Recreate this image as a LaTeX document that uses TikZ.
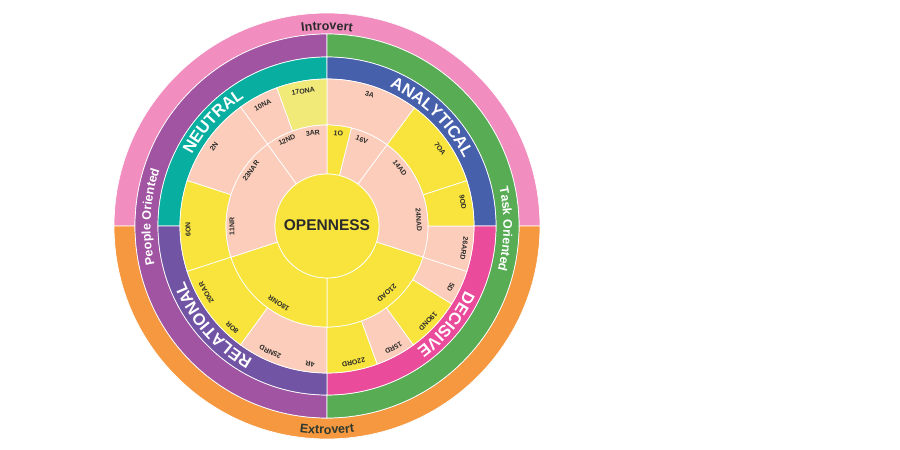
\documentclass[tikz,border=0pt]{standalone}
\usepackage{fontspec}
\setmainfont{Liberation Sans}
\usetikzlibrary{decorations.text}
\definecolor{cpink}{HTML}{F18DBF}
\definecolor{corange}{HTML}{F59840}
\definecolor{cpurple}{HTML}{A054A1}
\definecolor{cgreen}{HTML}{58AC54}
\definecolor{cteal}{HTML}{08AEA0}
\definecolor{cblue}{HTML}{4660AC}
\definecolor{cmagenta}{HTML}{EA4B9A}
\definecolor{crel}{HTML}{7154A4}
\definecolor{cpeach}{HTML}{FBCDBA}
\definecolor{cyellow}{HTML}{F8E43C}
\definecolor{clyellow}{HTML}{F1EA78}
\definecolor{cdark}{HTML}{2B2B2B}
\definecolor{cdarkg}{HTML}{2F3A2F}
\newcommand\sectr[5]{\filldraw[fill=#5,draw=white,line width=0.7pt] (#1:#3) arc[start angle=#1,end angle=#2,radius=#3] -- (#2:#4) arc[start angle=#2,end angle=#1,radius=#4] -- cycle;}
\newcommand\qfont{\color{white}\bfseries\fontsize{16.5}{18}\selectfont}
\newcommand\ofont{\color{white}\bfseries\fontsize{12.5}{14}\selectfont}
\newcommand\ifont{\color{cdark}\bfseries\fontsize{12.5}{14}\selectfont}
\newcommand\efont{\color{cdarkg}\bfseries\fontsize{12.5}{14}\selectfont}
\begin{document}
\begin{tikzpicture}[x=1pt,y=1pt,
  lbl/.style={font=\bfseries\fontsize{7}{8}\selectfont,text=cdark,inner sep=0pt},
  arctext/.style={decorate,decoration={text along path,text align=center,text={#1}}}]
\useasboundingbox (0,0) rectangle (900,450);
\fill[white] (0,0) rectangle (900,450);
\begin{scope}[shift={(327,224)}]
% outer ring
\sectr{0}{180}{192}{213}{cpink}
\sectr{180}{360}{192}{213}{corange}
% orientation ring
\sectr{90}{270}{169}{192}{cpurple}
\sectr{-90}{90}{169}{192}{cgreen}
% quadrant ring
\sectr{90}{180}{147}{169}{cteal}
\sectr{0}{90}{147}{169}{cblue}
\sectr{-90}{0}{147}{169}{cmagenta}
\sectr{180}{270}{147}{169}{crel}
% outer sectors
\sectr{53.5}{90}{101}{147}{cpeach}
\sectr{90}{110}{101}{147}{clyellow}
\sectr{110}{126}{101}{147}{cpeach}
\sectr{126}{162}{101}{147}{cpeach}
\sectr{162}{198}{101}{147}{cyellow}
\sectr{198}{234}{101}{147}{cyellow}
\sectr{234}{270}{101}{147}{cpeach}
\sectr{270}{290}{101}{147}{cyellow}
\sectr{290}{306}{101}{147}{cpeach}
\sectr{306}{328}{101}{147}{cyellow}
\sectr{328}{342}{101}{147}{cpeach}
\sectr{342}{360}{101}{147}{cpeach}
\sectr{0}{18}{101}{147}{cyellow}
\sectr{18}{53.5}{101}{147}{cyellow}
% middle sectors
\sectr{76}{90}{52}{101}{cyellow}
\sectr{53.5}{76}{52}{101}{cpeach}
\sectr{-18}{53.5}{52}{101}{cpeach}
\sectr{-90}{-18}{52}{101}{cyellow}
\sectr{198}{270}{52}{101}{cyellow}
\sectr{126}{198}{52}{101}{cpeach}
\sectr{90}{126}{52}{101}{cpeach}
% center
\filldraw[fill=cyellow,draw=white,line width=0.7pt] (0,0) circle[radius=52];
\node[font=\bfseries\fontsize{15.5}{17}\selectfont,text=cdark] (open) at (0,1) {OPENNESS};
% ring texts
\path[arctext={|\qfont|NEUTRAL}] (182.5:152.6) arc[start angle=182.5,end angle=92.5,radius=152.6];
\path[arctext={|\qfont|ANALYTICAL}] (91:152.6) arc[start angle=91,end angle=1,radius=152.6];
\path[arctext={|\qfont|DECISIVE}] (5.5:152.6) arc[start angle=5.5,end angle=-84.5,radius=152.6];
\path[arctext={|\qfont|RELATIONAL}] (266:152.6) arc[start angle=266,end angle=176,radius=152.6];
\path[arctext={|\ofont|People Oriented}] (222:176.5) arc[start angle=222,end angle=132,radius=176.5];
\path[arctext={|\ofont|Task Oriented}] (44:176.5) arc[start angle=44,end angle=-46,radius=176.5];
\path[arctext={|\ifont|Introvert}] (125:196) arc[start angle=125,end angle=55,radius=196];
\path[arctext={|\efont|Extrovert}] (235:208) arc[start angle=235,end angle=305,radius=208];
% outer labels
\node[lbl,rotate=10]    (l17ona) at (100:137) {17ONA};
\node[lbl,rotate=28]    (l10na)  at (118:137) {10NA};
\node[lbl,rotate=55]    (l2n)    at (145:138) {2N};
\node[lbl,rotate=91.5]  (l6on)   at (181.5:139) {6ON};
\node[lbl,rotate=119]   (l20oar) at (209:138) {20OAR};
\node[lbl,rotate=137]   (l8or)   at (227:139) {8OR};
\node[lbl,rotate=155.7] (l25nrd) at (245.7:138) {25NRD};
\node[lbl,rotate=173]   (l4r)    at (263:139) {4R};
\node[lbl,rotate=191]   (l22ord) at (281:139) {22ORD};
\node[lbl,rotate=208.6] (l15rd)  at (298.6:139) {15RD};
\node[lbl,rotate=226.7] (l19ond) at (316.7:139) {19OND};
\node[lbl,rotate=243.7] (l5d)    at (333.7:138) {5D};
\node[lbl,rotate=260.8] (l26ard) at (350.8:139) {26ARD};
\node[lbl,rotate=-80]   (l9od)   at (10:138) {9OD};
\node[lbl,rotate=-55.6] (l7oa)   at (34.4:137) {7OA};
\node[lbl,rotate=-18]   (l3a)    at (72:138) {3A};
% middle labels
\node[lbl,rotate=-7]    (l1o)    at (83:93) {1O};
\node[lbl,rotate=-22]   (l16v)   at (68:93) {16V};
\node[lbl,rotate=8.6]   (l3ar)   at (98.6:94) {3AR};
\node[lbl,rotate=25]    (l12nd)  at (115:95) {12ND};
\node[lbl,rotate=54]    (l23nar) at (144:94) {23NAR};
\node[lbl,rotate=90.4]  (l11nr)  at (180.4:95) {11NR};
\node[lbl,rotate=148]   (l18onr) at (238:91) {18ONR};
\node[lbl,rotate=221.7] (l21oad) at (311.7:90) {21OAD};
\node[lbl,rotate=-86.3] (l24nad) at (3.7:92) {24NAD};
\node[lbl,rotate=-51.6] (l14ad)  at (38.4:93) {14AD};
\end{scope}
\end{tikzpicture}
\end{document}
